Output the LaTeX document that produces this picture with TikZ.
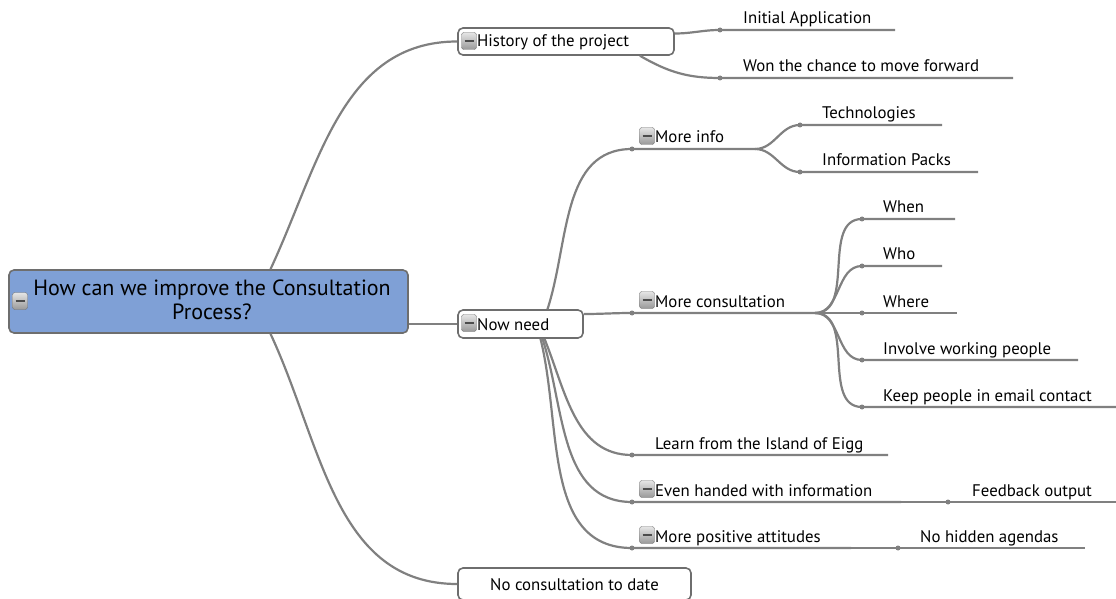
\documentclass[tikz,border=0pt]{standalone}
\usepackage{fontspec}
\setmainfont{PT Sans}
\usetikzlibrary{positioning}
\definecolor{rootblue}{RGB}{127,160,214}
\definecolor{branch}{RGB}{128,128,128}
\definecolor{frame}{RGB}{110,110,110}

\begin{document}
\begin{tikzpicture}
  [x=1pt, y=1pt,
   rootbox/.style={draw=frame, fill=rootblue, line width=1.6pt, rounded corners=5pt, minimum width=399pt, minimum height=63pt},
   topicbox/.style={draw=frame, fill=white, line width=1.6pt, rounded corners=5pt, minimum height=27pt},
   icon/.style={draw=black!55, rounded corners=2.5pt, top color=gray!20, bottom color=gray!80, minimum width=15pt, minimum height=17pt, inner sep=0pt,
     path picture={\draw[black!70, line width=1.4pt] ([xshift=-4.5pt]path picture bounding box.center) -- ([xshift=4.5pt]path picture bounding box.center);}},
   txt/.style={anchor=base west, inner sep=0pt, font=\fontsize{16.8}{20}\selectfont},
   link/.style={draw=branch, line width=2.2pt},
   dot/.style={circle, fill=branch, inner sep=0pt, minimum size=5pt},]
  \useasboundingbox (0,0) rectangle (1116,598);

  % main topic
  \node[rootbox] (root) at (208.5,296.5) {};
  \node[icon] (rooti) at (20,297) {};
  \node[align=center, font=\fontsize{22}{24}\selectfont] (roott) at (212,298) {How can we improve the Consultation\\Process?};

  % first level
  \node[topicbox, minimum width=216pt] (hist) at (566,556.5) {};
  \node[icon] (histi) at (469,557) {};
  \node[txt] (histt) at (477,551) {History of the project};

  \node[topicbox, minimum width=125pt, minimum height=28pt] (now) at (520.5,274) {};
  \node[icon] (nowi) at (469,275) {};
  \node[txt] (nowt) at (477,268) {Now need};

  \node[topicbox, minimum width=233pt, minimum height=32pt] (nocons) at (574.5,14) {};
  \node[txt, anchor=base] (noconst) at (574.5,8) {No consultation to date};

  \draw[link] ([xshift=62pt]root.north) to[out=65,in=180] (hist.west);
  \draw[link] (root.east |- now.west) -- (now.west);
  \draw[link] ([xshift=62pt]root.south) to[out=-65,in=180] (nocons.west);

  % history of the project
  \node[dot] (dIA) at (720,568) {};
  \coordinate (eIA) at (895,568);
  \node[txt] (tIA) at (743,574) {Initial Application};
  \node[dot] (dWon) at (720,520) {};
  \coordinate (eWon) at (1013,520);
  \node[txt] (tWon) at (743,526) {Won the chance to move forward};

  \draw[link] ([yshift=8pt]hist.east) to[out=0,in=180] (dIA.center) -- (eIA);
  \draw[link] ([xshift=74pt]hist.south) to[out=-30,in=180] (dWon.center) -- (eWon);

  % now need
  \node[dot] (dInfo) at (632,449) {};
  \coordinate (eInfo) at (755,449);
  \node[icon] (iInfo) at (647,462) {};
  \node[txt] (tInfo) at (655,455) {More info};

  \node[dot] (dCons) at (632,285) {};
  \coordinate (eCons) at (815,285);
  \node[icon] (iCons) at (647,298) {};
  \node[txt] (tCons) at (655,291) {More consultation};

  \node[dot] (dLearn) at (632,143) {};
  \coordinate (eLearn) at (888,143);
  \node[txt] (tLearn) at (655,149) {Learn from the Island of Eigg};

  \node[dot] (dEven) at (632,96) {};
  \coordinate (eEven) at (901,96);
  \node[icon] (iEven) at (647,109) {};
  \node[txt] (tEven) at (655,102) {Even handed with information};

  \node[dot] (dPos) at (632,50) {};
  \coordinate (ePos) at (851,50);
  \node[icon] (iPos) at (647,63) {};
  \node[txt] (tPos) at (655,56) {More positive attitudes};

  \draw[link] ([xshift=27pt]now.north) to[out=72,in=180] (dInfo.center) -- (eInfo);
  \draw[link] ([yshift=10pt]now.east) to[out=0,in=180] (dCons.center) -- (eCons);
  \draw[link] ([xshift=24pt]now.south) to[out=-68,in=180] (dLearn.center) -- (eLearn);
  \draw[link] ([xshift=22pt]now.south) to[out=-72,in=180] (dEven.center) -- (eEven);
  \draw[link] ([xshift=20pt]now.south) to[out=-76,in=180] (dPos.center) -- (ePos);

  % more info
  \node[dot] (dTech) at (800,473) {};
  \coordinate (eTech) at (942,473);
  \node[txt] (tTech) at (822,479) {Technologies};
  \node[dot] (dPack) at (800,426) {};
  \coordinate (ePack) at (978,426);
  \node[txt] (tPack) at (822,432) {Information Packs};

  \draw[link] (eInfo) to[out=0,in=180] (dTech.center) -- (eTech);
  \draw[link] (eInfo) to[out=0,in=180] (dPack.center) -- (ePack);

  % more consultation
  \node[dot] (dWhen) at (862,379) {};
  \coordinate (eWhen) at (955,379);
  \node[txt] (tWhen) at (883,385) {When};
  \node[dot] (dWho) at (862,332) {};
  \coordinate (eWho) at (942,332);
  \node[txt] (tWho) at (883,338) {Who};
  \node[dot] (dWhere) at (862,285) {};
  \coordinate (eWhere) at (957,285);
  \node[txt] (tWhere) at (883,291) {Where};
  \node[dot] (dWork) at (862,238) {};
  \coordinate (eWork) at (1078,238);
  \node[txt] (tWork) at (883,244) {Involve working people};
  \node[dot] (dMail) at (862,191) {};
  \coordinate (eMail) at (1116,191);
  \node[txt] (tMail) at (883,197) {Keep people in email contact};

  \draw[link] (eCons) to[out=0,in=180] (dWhen.center) -- (eWhen);
  \draw[link] (eCons) to[out=0,in=180] (dWho.center) -- (eWho);
  \draw[link] (eCons) -- (dWhere.center) -- (eWhere);
  \draw[link] (eCons) to[out=0,in=180] (dWork.center) -- (eWork);
  \draw[link] (eCons) to[out=0,in=180] (dMail.center) -- (eMail);

  % even handed / positive attitudes
  \node[dot] (dFeed) at (948,96) {};
  \coordinate (eFeed) at (1116,96);
  \node[txt] (tFeed) at (972,102) {Feedback output};
  \node[dot] (dHidden) at (898,50) {};
  \coordinate (eHidden) at (1085,50);
  \node[txt] (tHidden) at (920,56) {No hidden agendas};

  \draw[link] (eEven) -- (dFeed.center) -- (eFeed);
  \draw[link] (ePos) -- (dHidden.center) -- (eHidden);
\end{tikzpicture}
\end{document}
